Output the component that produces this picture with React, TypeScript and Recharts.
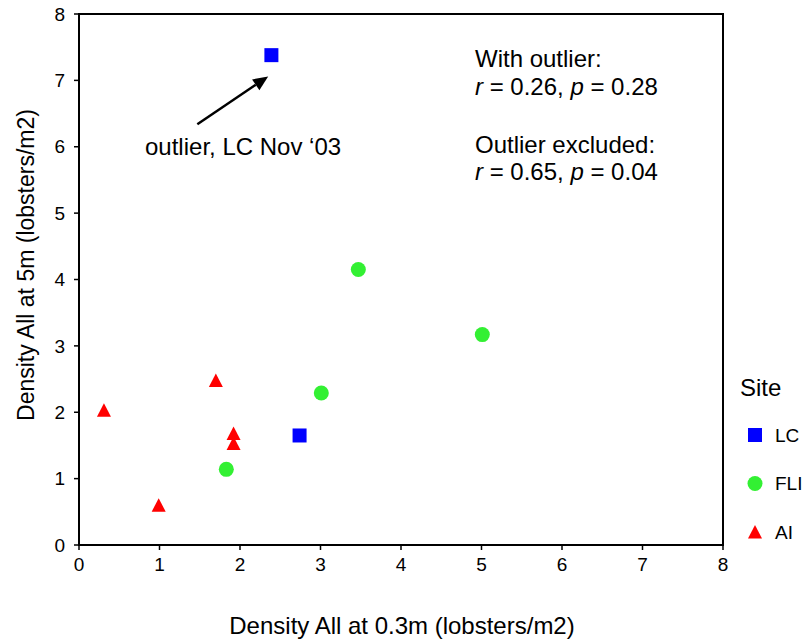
import { ScatterChart, Scatter, XAxis, YAxis, ReferenceArea, ReferenceLine, Customized } from 'recharts'

const FONT = '"Liberation Sans", Arial, sans-serif'

const axisTicks = [0, 1, 2, 3, 4, 5, 6, 7, 8]

const lcPoints = [
  { x: 2.39, y: 7.38 },
  { x: 2.74, y: 1.65 },
]
const fliPoints = [
  { x: 1.83, y: 1.14 },
  { x: 3.01, y: 2.29 },
  { x: 3.47, y: 4.15 },
  { x: 5.01, y: 3.17 },
]
const aiPoints = [
  { x: 0.31, y: 2.03 },
  { x: 0.99, y: 0.6 },
  { x: 1.7, y: 2.48 },
  { x: 1.92, y: 1.68 },
  { x: 1.92, y: 1.53 },
]

// arrow from label to outlier, in data units
const arrowStart = { x: 1.47, y: 6.34 }
const arrowEnd = { x: 2.35, y: 7.06 }

const SQUARE = '#0000ff'
const CIRCLE = '#33f033'
const TRI = '#ff0000'

function drawMarker(kind: string, cx: number, cy: number) {
  if (kind === 'square') return <rect x={cx - 7} y={cy - 7} width={14} height={14} fill={SQUARE} />
  if (kind === 'circle') return <circle cx={cx} cy={cy} r={7.5} fill={CIRCLE} />
  return <polygon points={`${cx},${cy - 7} ${cx + 7},${cy + 6.5} ${cx - 7},${cy + 6.5}`} fill={TRI} />
}

const series = [
  { name: 'LC', data: lcPoints, kind: 'square' },
  { name: 'FLI', data: fliPoints, kind: 'circle' },
  { name: 'AI', data: aiPoints, kind: 'triangle' },
]

// legend sits in the right margin, outside the plot
function SiteLegend() {
  return (
    <g transform="translate(740 365)">
      <text x={0} y={30.5} fontSize={24} fontFamily={FONT} fill="#000">Site</text>
      {series.map((s, i) => {
        const cy = 70 + i * 48.5
        return (
          <g key={s.name}>
            {drawMarker(s.kind, 15, cy)}
            <text x={35} y={cy + 6.8} fontSize={19} fontFamily={FONT} fill="#000">{s.name}</text>
          </g>
        )
      })}
    </g>
  )
}

function Arrow(props: any) {
  const { x1, y1, x2, y2 } = props
  const ang = Math.atan2(y2 - y1, x2 - x1)
  const len = 15
  const w = 6.5
  const bx = x2 - len * Math.cos(ang)
  const by = y2 - len * Math.sin(ang)
  const px = -Math.sin(ang) * w
  const py = Math.cos(ang) * w
  return (
    <g>
      <line x1={x1} y1={y1} x2={bx} y2={by} stroke="#000" strokeWidth={2.5} />
      <polygon points={`${x2},${y2} ${bx + px},${by + py} ${bx - px},${by - py}`} fill="#000" />
    </g>
  )
}

function Notes() {
  const t = { fontSize: 24, fontFamily: FONT, fill: '#000' }
  return (
    <g>
      <text x={145} y={155} {...t}>outlier, LC Nov ‘03</text>
      <text x={475} y={67} {...t}>With outlier:</text>
      <text x={475} y={95} {...t}>
        <tspan fontStyle="italic">r</tspan> = 0.26, <tspan fontStyle="italic">p</tspan> = 0.28
      </text>
      <text x={475} y={153} {...t}>Outlier excluded:</text>
      <text x={475} y={180} {...t}>
        <tspan fontStyle="italic">r</tspan> = 0.65, <tspan fontStyle="italic">p</tspan> = 0.04
      </text>
      <text x={402} y={634} textAnchor="middle" {...t}>Density All at 0.3m (lobsters/m2)</text>
      <text x={34} y={265} textAnchor="middle" transform="rotate(-90 34 265)" {...t} fontSize={23}>
        Density All at 5m (lobsters/m2)
      </text>
    </g>
  )
}

export default function App() {
  const tickStyle = { fill: '#000', fontSize: 19, fontFamily: FONT }
  return (
    <div style={{ position: 'absolute', left: 0, top: 0, background: '#fff' }}>
      <ScatterChart width={805} height={640} margin={{ top: 14, right: 82, bottom: 0, left: 0 }}>
        <XAxis
          type="number"
          dataKey="x"
          domain={[0, 8]}
          ticks={axisTicks}
          interval={0}
          height={95}
          tickSize={5}
          tickMargin={8}
          tick={tickStyle}
          axisLine={{ stroke: '#000', strokeWidth: 2 }}
          tickLine={{ stroke: '#000', strokeWidth: 1.5 }}
          allowDataOverflow
        />
        <YAxis
          type="number"
          dataKey="y"
          domain={[0, 8]}
          ticks={axisTicks}
          interval={0}
          width={79}
          tickSize={5}
          tickMargin={9}
          tick={tickStyle}
          axisLine={{ stroke: '#000', strokeWidth: 2 }}
          tickLine={{ stroke: '#000', strokeWidth: 1.5 }}
          allowDataOverflow
        />
        <ReferenceArea x1={0} x2={8} y1={0} y2={8} fill="none" stroke="#000" strokeWidth={2} fillOpacity={0} />
        <ReferenceLine
          segment={[arrowStart, arrowEnd]}
          shape={(p: any) => <Arrow {...p} />}
        />
        {series.map((s) => (
          <Scatter
            key={s.name}
            name={s.name}
            data={s.data}
            isAnimationActive={false}
            shape={(p: any) => drawMarker(s.kind, p.cx, p.cy)}
          />
        ))}
        <Customized component={SiteLegend} />
        <Customized component={Notes} />
      </ScatterChart>
    </div>
  )
}
